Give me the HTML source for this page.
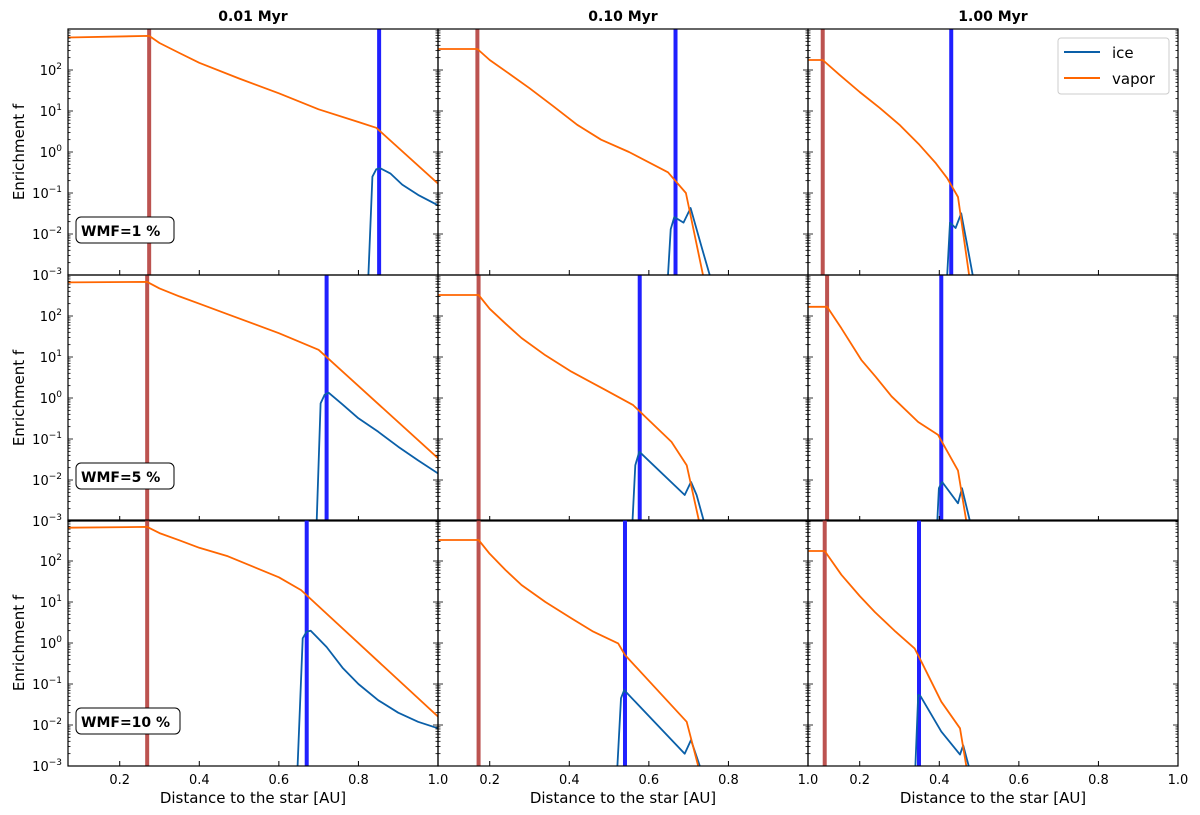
<!DOCTYPE html>
<html><head><meta charset="utf-8"><style>
body{margin:0;background:#fff}
svg{display:block;font-family:"DejaVu Sans","Liberation Sans",sans-serif}
</style></head><body>
<svg id="fig" width="1200" height="815" viewBox="0 0 1200 815" xmlns="http://www.w3.org/2000/svg"></svg>
<script>
const timeLabels=["0.01 Myr","0.10 Myr","1.00 Myr"];
const wmfLabels=["WMF=1 %","WMF=5 %","WMF=10 %"];
const xTicks=[0.2,0.4,0.6,0.8,1.0];
const yTickExps=[-3,-2,-1,0,1,2];
const redLines=[[0.274,0.169,0.107],[0.269,0.172,0.118],[0.269,0.172,0.112]];
const blueLines=[[0.852,0.667,0.43],[0.72,0.577,0.405],[0.67,0.54,0.349]];
// vapor series [x, f]
const vapor=[
 [[[0.07,620],[0.274,680],[0.3,455],[0.35,260],[0.4,150],[0.5,62],[0.6,27],[0.7,11],[0.8,5.4],[0.845,3.9],[1.0,0.17]],
  [[0.07,325],[0.169,325],[0.2,175],[0.25,80],[0.3,36],[0.36,13],[0.42,4.6],[0.48,2.0],[0.55,1.0],[0.648,0.32],[0.693,0.1],[0.736,0.001]],
  [[0.07,175],[0.107,175],[0.15,75],[0.2,29],[0.25,12],[0.3,4.6],[0.35,1.5],[0.39,0.55],[0.42,0.23],[0.447,0.08],[0.475,0.001]]],
 [[[0.07,660],[0.269,680],[0.3,470],[0.35,300],[0.4,200],[0.472,110],[0.6,38],[0.70,15],[1.0,0.034]],
  [[0.07,325],[0.172,325],[0.2,150],[0.24,65],[0.28,29],[0.34,11],[0.405,4.4],[0.489,1.6],[0.56,0.68],[0.657,0.085],[0.695,0.023],[0.726,0.001]],
  [[0.07,168],[0.118,168],[0.154,50],[0.204,8.5],[0.24,3.3],[0.28,1.1],[0.347,0.26],[0.397,0.126],[0.447,0.017],[0.468,0.001]]],
 [[[0.07,650],[0.269,680],[0.3,480],[0.35,320],[0.4,210],[0.472,130],[0.6,40],[0.656,19.5],[1.0,0.016]],
  [[0.07,325],[0.172,325],[0.2,150],[0.24,60],[0.28,26],[0.34,10],[0.405,4],[0.46,1.9],[0.523,0.98],[0.54,0.51],[0.695,0.012],[0.724,0.001]],
  [[0.07,175],[0.112,175],[0.154,46],[0.2,14],[0.238,5.7],[0.29,1.9],[0.338,0.74],[0.355,0.35],[0.405,0.037],[0.452,0.0083],[0.468,0.001]]]
];
const ice=[
 [[[0.825,0.001],[0.835,0.25],[0.845,0.38],[0.855,0.4],[0.88,0.3],[0.91,0.16],[0.95,0.09],[1.0,0.05]],
  [[0.648,0.001],[0.655,0.013],[0.664,0.026],[0.687,0.019],[0.705,0.043],[0.732,0.005],[0.753,0.001]],
  [[0.42,0.001],[0.427,0.019],[0.441,0.014],[0.455,0.032],[0.468,0.007],[0.484,0.001]]],
 [[[0.695,0.001],[0.705,0.74],[0.715,1.2],[0.725,1.35],[0.76,0.7],[0.8,0.32],[0.85,0.15],[0.9,0.065],[0.95,0.03],[1.0,0.0145]],
  [[0.559,0.001],[0.566,0.023],[0.576,0.049],[0.69,0.0043],[0.706,0.009],[0.72,0.0043],[0.738,0.001]],
  [[0.395,0.001],[0.399,0.0063],[0.407,0.009],[0.447,0.0027],[0.457,0.0063],[0.477,0.001]]],
 [[[0.647,0.001],[0.66,1.3],[0.67,1.9],[0.68,2.0],[0.72,0.8],[0.76,0.25],[0.8,0.1],[0.85,0.04],[0.9,0.02],[0.95,0.012],[1.0,0.0083]],
  [[0.521,0.001],[0.53,0.045],[0.538,0.071],[0.69,0.002],[0.706,0.0043],[0.728,0.001]],
  [[0.34,0.001],[0.347,0.054],[0.353,0.05],[0.405,0.0069],[0.452,0.0019],[0.46,0.0032],[0.474,0.001]]]
];
const NS="http://www.w3.org/2000/svg";
const svg=document.getElementById('fig');
const colL=[68,438,808], rowT=[29,275,520], PW=370, PH=246;
const XMIN=0.07, XMAX=1.0;
function mk(t,a,p){const e=document.createElementNS(NS,t);for(const k in a)e.setAttribute(k,a[k]);(p||svg).appendChild(e);return e;}
function xs(c,x){return colL[c]+(x-XMIN)/(XMAX-XMIN)*PW;}
function ys(r,v){return rowT[r]+(3-Math.log10(v))/6*PH;}
const defs=mk('defs',{});
for(let r=0;r<3;r++)for(let c=0;c<3;c++){
 const cp=mk('clipPath',{id:'cp'+r+c},defs);mk('rect',{x:colL[c],y:rowT[r],width:PW,height:PH},cp);
}
for(let r=0;r<3;r++)for(let c=0;c<3;c++){
 const g=mk('g',{});
 
 
 const pg=mk('g',{'clip-path':'url(#cp'+r+c+')'},g);
 const rl=mk('line',{x1:xs(c,redLines[r][c]),x2:xs(c,redLines[r][c]),y1:rowT[r],y2:rowT[r]+PH,stroke:'#b5403d','stroke-opacity':0.9,'stroke-width':4},pg);
 
 
 const bl=mk('line',{x1:xs(c,blueLines[r][c]),x2:xs(c,blueLines[r][c]),y1:rowT[r],y2:rowT[r]+PH,stroke:'#2020ff','stroke-width':4},pg);
 
 
 const pi=mk('polyline',{points:ice[r][c].map(p=>xs(c,p[0]).toFixed(1)+','+ys(r,p[1]).toFixed(1)).join(' '),fill:'none',stroke:'#0a5fa8','stroke-width':1.8,'stroke-linejoin':'round'},pg);
 
 
 const pv=mk('polyline',{points:vapor[r][c].map(p=>xs(c,p[0]).toFixed(1)+','+ys(r,p[1]).toFixed(1)).join(' '),fill:'none',stroke:'#ff6600','stroke-width':1.8,'stroke-linejoin':'round'},pg);
 
 
 xTicks.forEach(t=>{const X=xs(c,t);mk('line',{x1:X,x2:X,y1:rowT[r]+PH,y2:rowT[r]+PH-5,stroke:'#000','stroke-width':1},g);
  if(r===2){const tl=mk('text',{x:X,y:rowT[r]+PH+18,'text-anchor':'middle','font-size':13},g);tl.textContent=t.toFixed(1);
   
   }});
 for(let e=-3;e<3;e++){for(let m=1;m<10;m++){const v=m*Math.pow(10,e);const Y=ys(r,v);const L=m===1?5:2.5;
  mk('line',{x1:colL[c],x2:colL[c]+L,y1:Y,y2:Y,stroke:'#000','stroke-width':0.8},g);
  mk('line',{x1:colL[c]+PW,x2:colL[c]+PW-L,y1:Y,y2:Y,stroke:'#000','stroke-width':0.8},g);}}
 if(c===0){yTickExps.forEach(e=>{const tl=mk('text',{x:colL[0]-6,y:ys(r,Math.pow(10,e))+5,'text-anchor':'end','font-size':13},g);
   tl.innerHTML='10<tspan dy="-6" font-size="9">'+(e<0?'\u2212'+(-e):e)+'</tspan>';
   
   });
  const yl=mk('text',{x:0,y:0,transform:'translate(24,'+(rowT[r]+PH/2)+') rotate(-90)','text-anchor':'middle','font-size':15},g);
  yl.textContent='Enrichment f';
  
  
  const bx=mk('g',{},g);
  
  
  const w=r===2?104:98;
  mk('rect',{x:76,y:rowT[r]+188,width:w,height:26,rx:5,fill:'#fff',stroke:'#000','stroke-width':1},bx);
  const wt=mk('text',{x:81,y:rowT[r]+207,'font-size':14,'font-weight':'bold'},bx);wt.textContent=wmfLabels[r];}
 if(r===0){const tt=mk('text',{x:colL[c]+PW/2,y:21,'text-anchor':'middle','font-size':14,'font-weight':'bold'},g);
  tt.textContent=timeLabels[c];
  
  }
 if(r===2){const xl=mk('text',{x:colL[c]+PW/2,y:803,'text-anchor':'middle','font-size':15},g);
  xl.textContent='Distance to the star [AU]';
  
  }
 mk('rect',{x:colL[c],y:rowT[r],width:PW,height:PH,fill:'none',stroke:'#000','stroke-width':1.2},g);
}
const lg=mk('g',{});


mk('rect',{x:1058,y:38,width:111,height:56,rx:3,fill:'#fff',stroke:'#ccc','stroke-width':1},lg);
mk('line',{x1:1064,x2:1100,y1:52,y2:52,stroke:'#0a5fa8','stroke-width':2},lg);
mk('line',{x1:1064,x2:1100,y1:78,y2:78,stroke:'#ff6600','stroke-width':2},lg);
const l1=mk('text',{x:1112,y:58,'font-size':15},lg);l1.textContent='ice';


const l2=mk('text',{x:1112,y:84,'font-size':15},lg);l2.textContent='vapor';


</script>
</body></html>
